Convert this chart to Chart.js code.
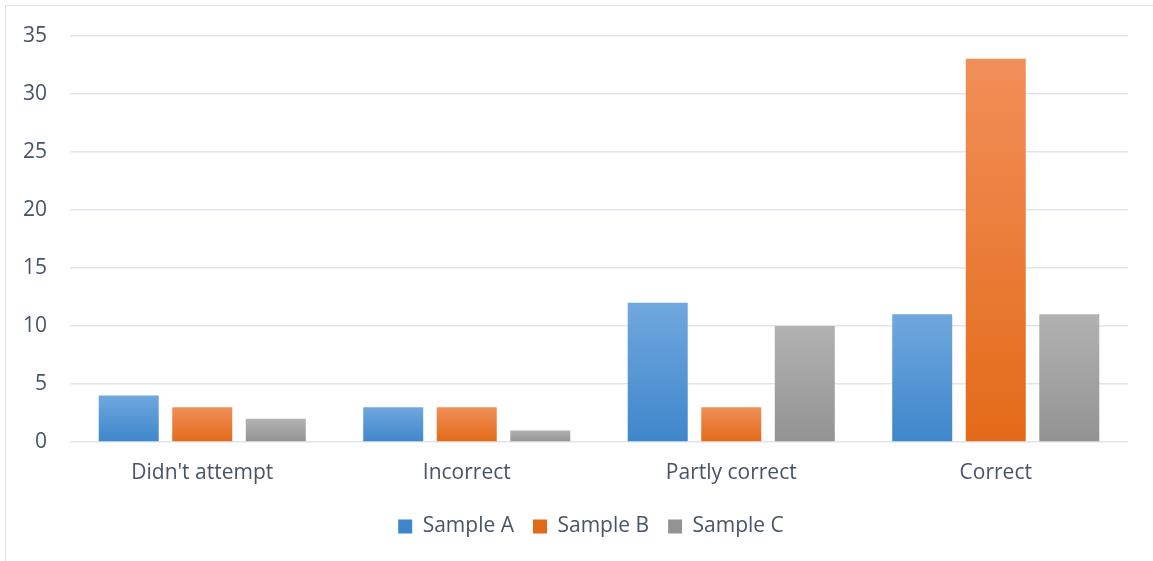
<!DOCTYPE html>
<html><head><meta charset="utf-8">
<script src="https://cdn.jsdelivr.net/npm/chart.js@4/dist/chart.umd.min.js"></script>
<style>
html,body{margin:0;padding:0;background:#fff;overflow:hidden;}
#frame{position:absolute;left:5px;top:5px;width:1300px;height:700px;border:1.5px solid #dde1e6;box-sizing:border-box;}
#wrap{position:absolute;left:0;top:0;width:1153px;height:561px;}
</style></head>
<body>
<div id="frame"></div>
<div id="wrap"><canvas id="c" width="1153" height="561"></canvas></div>
<script>
const categories = ["Didn't attempt", "Incorrect", "Partly correct", "Correct"];
const sampleA = [4, 3, 12, 11];
const sampleB = [3, 3, 3, 33];
const sampleC = [2, 1, 10, 11];
const seriesNames = ["Sample A", "Sample B", "Sample C"];
const yTicks = [0, 5, 10, 15, 20, 25, 30, 35];

const gradStops = [
  ["#70a8de", "#3e86cb"],
  ["#f18f59", "#e36a18"],
  ["#b2b2b2", "#939393"]
];
function barGrad(i){
  return function(ctx){
    if(ctx.type !== 'data') return gradStops[i][1];
    const chart = ctx.chart;
    const yScale = chart.scales.y;
    if(!yScale) return gradStops[i][1];
    const v = ctx.raw;
    const top = yScale.getPixelForValue(v);
    const bot = yScale.getPixelForValue(0);
    if(!isFinite(top) || top === bot) return gradStops[i][1];
    const g = chart.ctx.createLinearGradient(0, top, 0, bot);
    g.addColorStop(0, gradStops[i][0]);
    g.addColorStop(1, gradStops[i][1]);
    return g;
  };
}
const FONT = "'Open Sans', sans-serif";
const FS = 21;
const textColor = "#475467";
const data = [sampleA, sampleB, sampleC];
const legendShift = {
  id: 'legendShift',
  afterLayout(chart){
    if(chart.legend){ chart.legend.left += 54; }
  }
};
new Chart(document.getElementById('c'), {
  type: 'bar',
  data: {
    labels: categories,
    datasets: data.map((d, i) => ({
      label: seriesNames[i],
      data: d,
      backgroundColor: barGrad(i),
      borderWidth: 0,
      categoryPercentage: 0.834,
      barPercentage: 0.816
    }))
  },
  plugins: [legendShift],
  options: {
    responsive: false,
    animation: false,
    devicePixelRatio: 1,
    layout: { padding: { left: 0, right: 25, top: 35, bottom: 14 } },
    scales: {
      x: {
        afterFit: (s) => { s.height = 55; },
        grid: { display: false, drawTicks: false },
        border: { display: false },
        ticks: { color: textColor, font: { family: FONT, size: FS }, padding: 18 }
      },
      y: {
        min: 0, max: 35,
        afterBuildTicks: (s) => { s.ticks = yTicks.map(v => ({ value: v })); },
        afterFit: (s) => { s.width = 70; },
        grid: { color: "#e1e5eb", lineWidth: 1.5, drawTicks: false },
        border: { display: false },
        ticks: { color: textColor, font: { family: FONT, size: FS }, padding: 23 }
      }
    },
    plugins: {
      tooltip: { enabled: false },
      legend: {
        position: 'bottom',
        labels: {
          color: textColor,
          font: { family: FONT, size: FS },
          boxWidth: 14, boxHeight: 14,
          padding: 19,
          generateLabels: (chart) => chart.data.datasets.map((ds, i) => ({
            text: ds.label,
            fillStyle: gradStops[i][1],
            strokeStyle: 'rgba(0,0,0,0)',
            lineWidth: 0,
            fontColor: textColor,
            datasetIndex: i
          }))
        }
      }
    }
  }
});
</script>
</body></html>
